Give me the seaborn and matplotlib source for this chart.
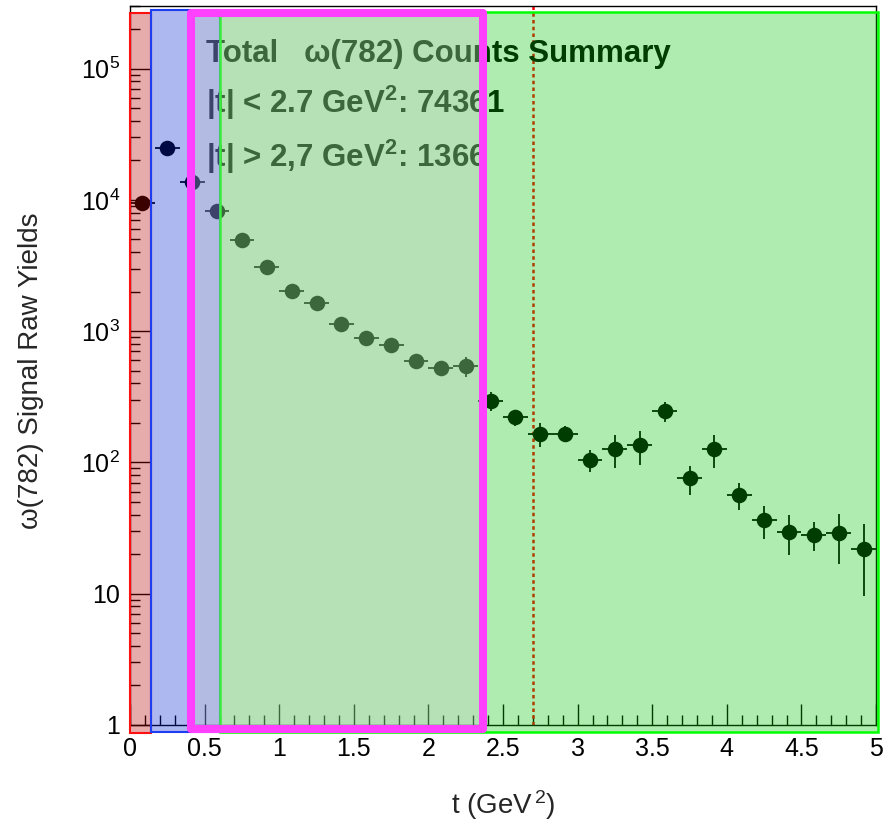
import numpy as np
import matplotlib
matplotlib.use('Agg')
import matplotlib.pyplot as plt
import matplotlib.ticker as mticker
import matplotlib.transforms as mtransforms
from matplotlib.patches import Rectangle
import seaborn as sns

# omega(782) raw yields per |t| bin (bin width 1/6 GeV^2)
t_centers = [0.083, 0.250, 0.417, 0.583, 0.750, 0.917, 1.083, 1.250, 1.417, 1.583,
             1.750, 1.917, 2.083, 2.250, 2.417, 2.583, 2.750, 2.917, 3.083, 3.250,
             3.417, 3.583, 3.750, 3.917, 4.083, 4.250, 4.417, 4.583, 4.750, 4.917]
yields = [9440, 24700, 13600, 8180, 4940, 3070, 2030, 1640, 1135, 881,
          780, 589, 521, 540, 293, 220, 166, 166, 105, 126,
          135, 246, 75.5, 126, 56.4, 36.2, 29.7, 28.0, 28.8, 21.8]
yield_err = [300, 500, 400, 300, 200, 150, 110, 90, 70, 60,
             55, 45, 45, 95, 48, 30, 34, 22, 20, 36,
             40, 42, 19, 36, 13, 10, 10, 7, 12, 12.2]
bin_half_width = 1 / 12

summary_lines = ['Total   ω(782) Counts Summary',
                 '|t| < 2.7 GeV$^{\\mathbf{2}}$: 74361',
                 '|t| > 2,7 GeV$^{\\mathbf{2}}$: 1366']
t_cut = 2.7

sns.set_style('white')
plt.rcParams['font.family'] = ['Liberation Sans', 'DejaVu Sans']
plt.rcParams['mathtext.fontset'] = 'custom'
plt.rcParams['mathtext.rm'] = 'Liberation Sans'
plt.rcParams['mathtext.it'] = 'Liberation Sans:italic'
plt.rcParams['mathtext.bf'] = 'Liberation Sans:bold'

fig = plt.figure(figsize=(8.95, 8.26), dpi=100)
ax = fig.add_axes([0.1453, 0.1223, 0.8335, 0.8705])

ax.axvline(t_cut, color='red', lw=1.8, ls=(0, (1.4, 1.3)), zorder=1)
ax.errorbar(t_centers, yields, xerr=bin_half_width, yerr=yield_err, fmt='none',
            ecolor='black', elinewidth=1.3, zorder=2)
sns.scatterplot(x=t_centers, y=yields, ax=ax, color='black', s=125,
                linewidth=0, zorder=3)

ax.set_yscale('log')
ax.set_xlim(0, 5)
ax.set_ylim(1, 3e5)

ax.xaxis.set_major_locator(mticker.MultipleLocator(0.5))
ax.xaxis.set_minor_locator(mticker.MultipleLocator(0.1))
ax.xaxis.set_major_formatter(mticker.FuncFormatter(lambda v, p: '%g' % v))
ax.yaxis.set_major_locator(mticker.FixedLocator([1, 10, 100, 1e3, 1e4, 1e5]))
ax.yaxis.set_major_formatter(mticker.FixedFormatter(
    ['1', '10', '$10^{2}$', '$10^{3}$', '$10^{4}$', '$10^{5}$']))
ax.yaxis.set_minor_locator(mticker.LogLocator(base=10, subs=np.arange(2, 10), numticks=20))
ax.yaxis.set_minor_formatter(mticker.NullFormatter())

ax.tick_params(which='both', direction='in', bottom=True, left=True, top=False, right=False,
               color='black', width=1, labelsize=18, labelcolor='black')
ax.tick_params(which='major', length=15)
ax.tick_params(which='minor', length=7.5)
ax.tick_params(axis='x', pad=8.5)
ax.tick_params(axis='y', pad=7)
for s in ax.spines.values():
    s.set_color('black')
    s.set_linewidth(1)

ax.set_xlabel('t (GeV$^{\\,2}$)', fontsize=20)
ax.set_ylabel('ω(782) Signal Raw Yields', fontsize=20)
ax.xaxis.set_label_coords(0.5, -0.088)
ax.yaxis.set_label_coords(-0.115, 0.492)

for txt, yb in zip(summary_lines, [0.9225, 0.8508, 0.7765]):
    ax.text(0.102, yb, txt, transform=ax.transAxes, fontsize=22.5,
            fontweight='bold', color='black', va='baseline', ha='left')

# highlight boxes laid over the plot (x in t, y in figure fraction)
trans = mtransforms.blended_transform_factory(ax.transData, fig.transFigure)
boxes = [
    dict(x0=0.0, x1=0.14, y0=0.1126, y1=0.9843, fc=(0.71, 0.0, 0.0, 0.33), ec='#ff1010', lw=1.5),
    dict(x0=0.14, x1=0.603, y0=0.1138, y1=0.9879, fc=(0.0, 0.12, 0.82, 0.32), ec='#1e3cf0', lw=1.5),
    dict(x0=0.603, x1=5.013, y0=0.1138, y1=0.9858, fc=(0.0, 0.77, 0.0, 0.314), ec='#00ff00', lw=1.8),
]
for b in boxes:
    r = Rectangle((b['x0'], b['y0']), b['x1'] - b['x0'], b['y1'] - b['y0'],
                  transform=trans, facecolor=b['fc'], edgecolor=b['ec'],
                  linewidth=b['lw'], clip_on=False, zorder=5)
    fig.add_artist(r)

mag = Rectangle((0.409, 0.1174), 2.363 - 0.409, 0.9839 - 0.1174, transform=trans,
                facecolor=(0.78, 0.78, 0.78, 0.3), edgecolor='#ff40ff', linewidth=5.8,
                joinstyle='round', clip_on=False, zorder=6)
fig.add_artist(mag)

fig.savefig('out.png', dpi=100)
